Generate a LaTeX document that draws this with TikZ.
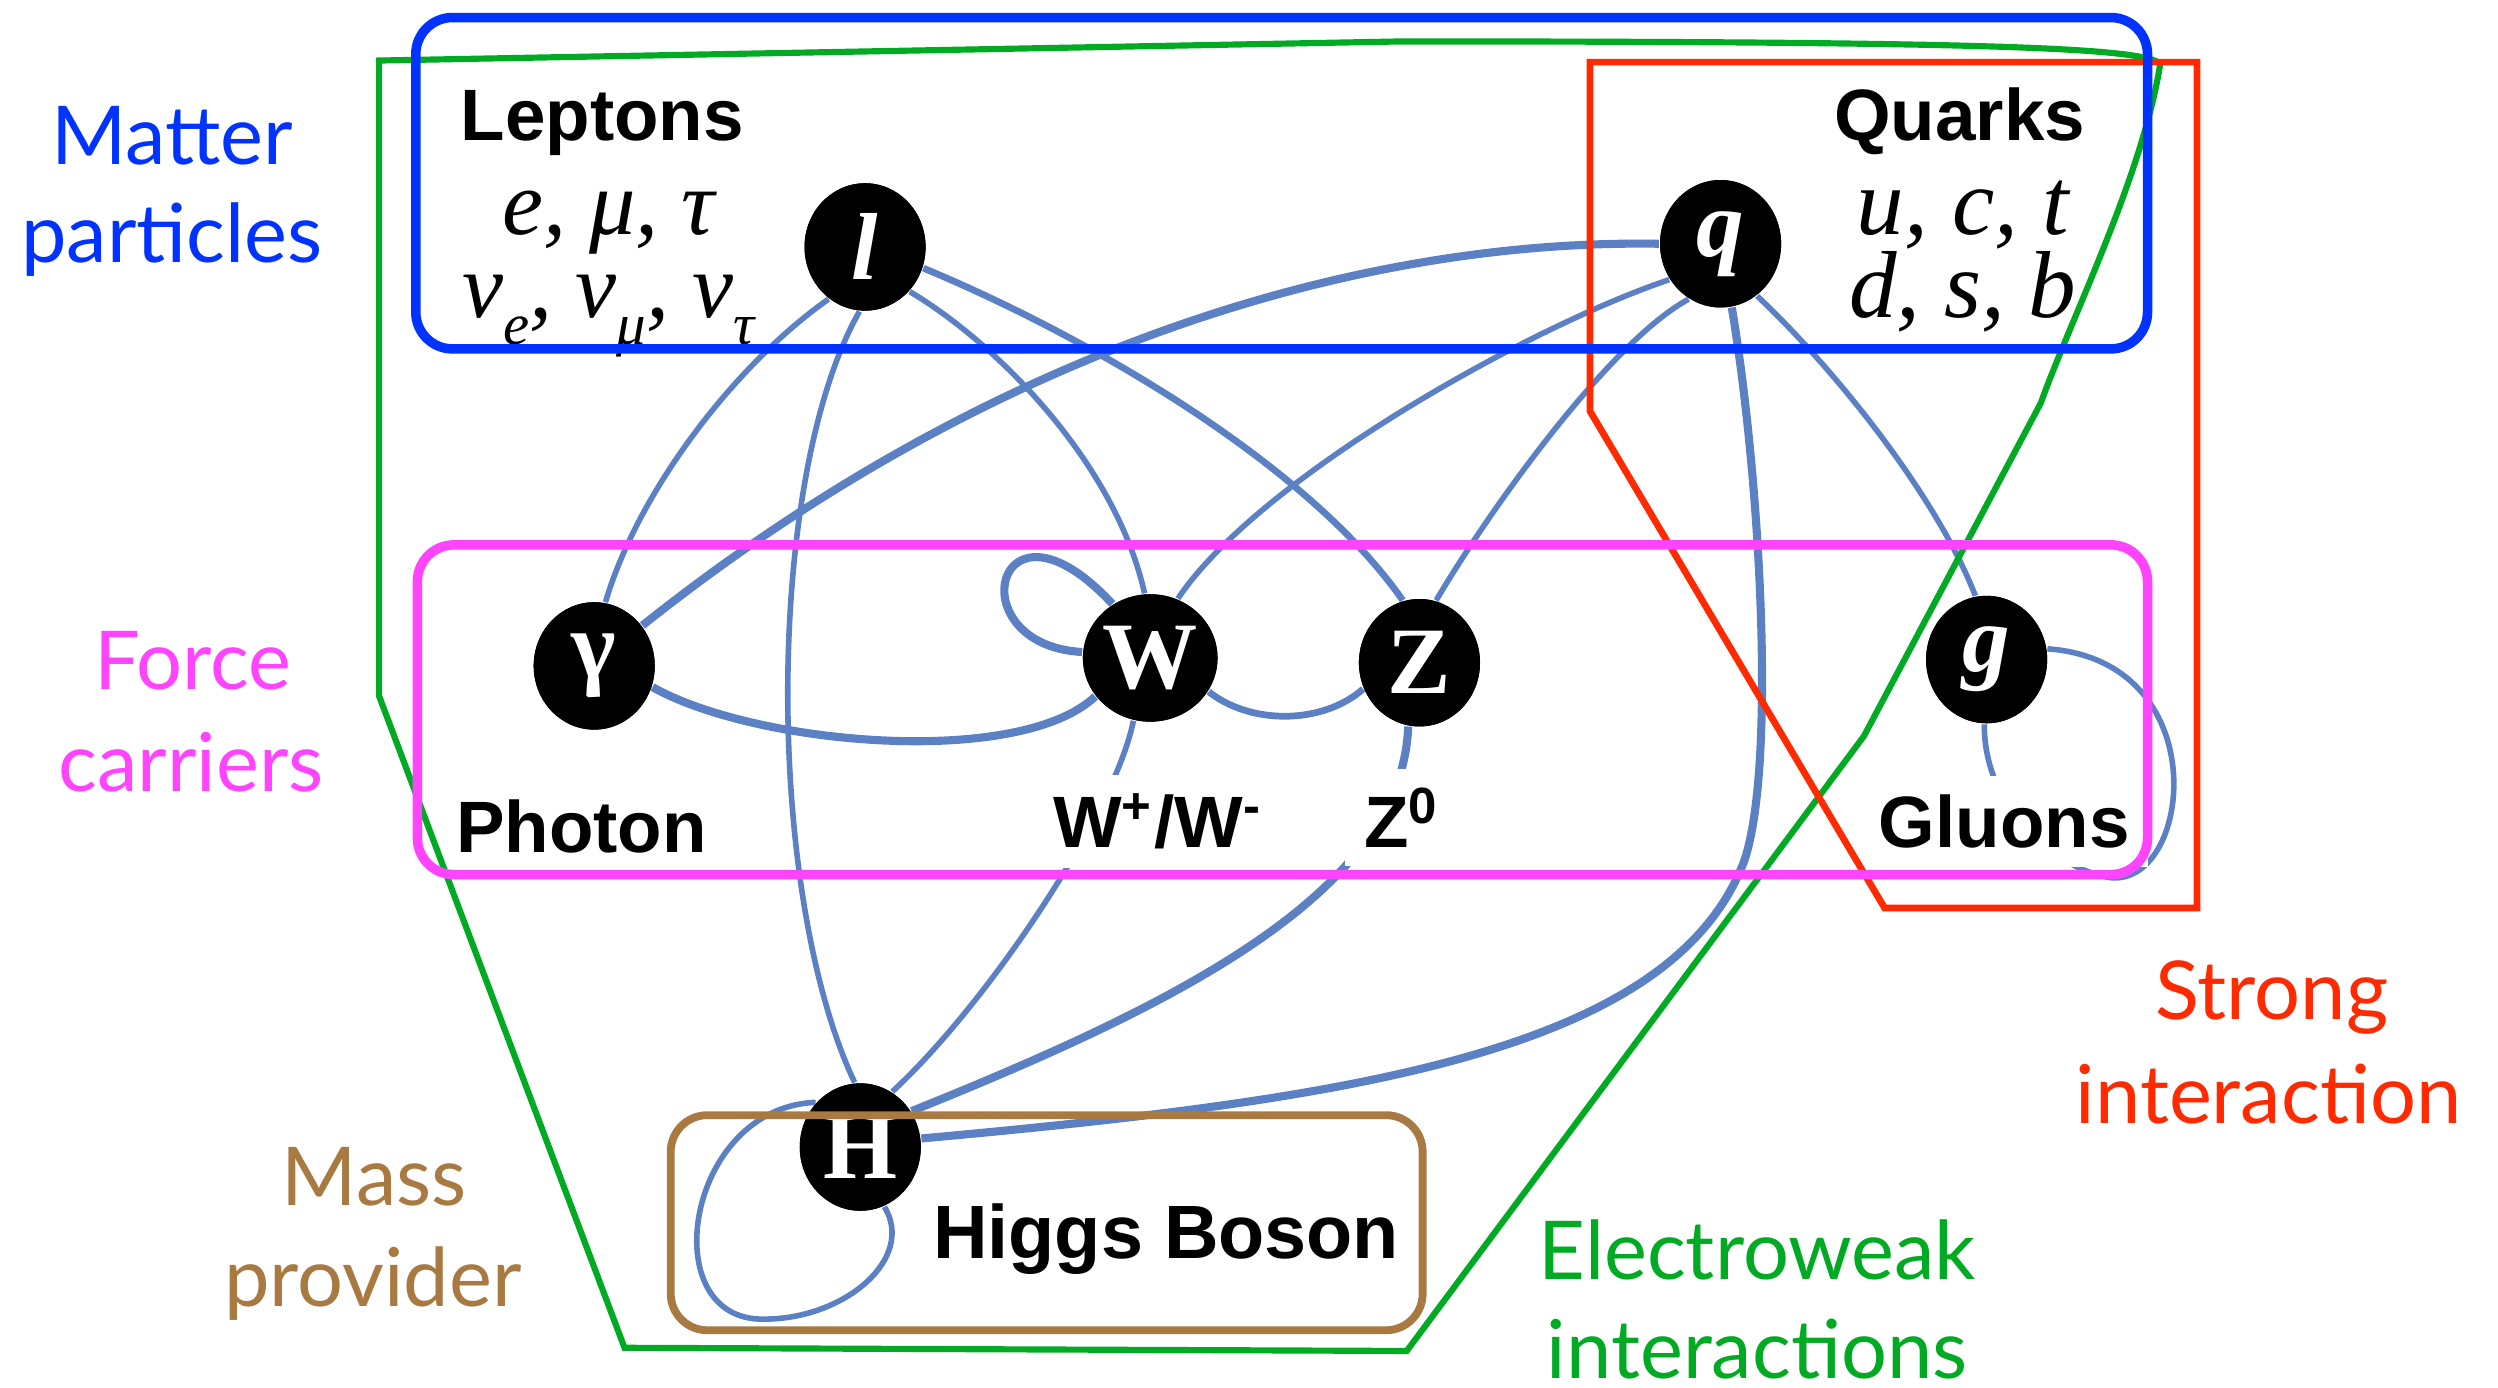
\documentclass[tikz,border=0pt]{standalone}
\usepackage{fontspec}
\usetikzlibrary{shapes.geometric}
\newfontfamily\labfont{Liberation Sans}
\newfontfamily\sidefont{Lato}
\newfontfamily\serfont{Liberation Serif}
\definecolor{edgeblue}{RGB}{92,128,196}
\definecolor{mblue}{RGB}{0,51,255}
\definecolor{mmag}{RGB}{255,68,255}
\definecolor{mbrown}{RGB}{168,122,66}
\definecolor{mred}{RGB}{255,42,0}
\definecolor{mgreen}{RGB}{0,170,34}
\newcommand\nusb[1]{ν\raisebox{-.3em}{\fontsize{10.5}{10.5}\selectfont #1}}
\begin{document}
\begin{tikzpicture}[x=0.1mm,y=-0.1mm,
  pnode/.style={ellipse, fill=black, minimum width=7.6mm, minimum height=8mm, inner sep=0pt,
    text=white, font=\serfont\bfseries\fontsize{17}{17}\selectfont},
  edge/.style={draw=edgeblue, line width=1pt},
  medge/.style={draw=edgeblue, line width=1.2pt},
  thickedge/.style={draw=edgeblue, line width=1.45pt},
  ttl/.style={font=\labfont\bfseries\fontsize{13}{13}\selectfont, anchor=base},
  side/.style={font=\sidefont\fontsize{14.5}{18.5}\selectfont, align=center, inner sep=0pt},
  sym/.style={font=\serfont\itshape\fontsize{16.5}{14.8}\selectfont, align=center, inner sep=0pt},
  rbox/.style={line width=1.7pt, rounded corners=2.3mm},
]
\useasboundingbox (0,0) rectangle (1568,871);

% particle nodes
\node[pnode] (l)  at (543,155) {\itshape l};
\node[pnode] (q)  at (1080,153) {\itshape q};
\node[pnode] (ga) at (373,418) {γ};
\node[pnode] (W)  at (722,413) {W};
\node[pnode] (Z)  at (891,416) {Z};
\node[pnode] (g)  at (1247,414) {\itshape g};
\node[pnode] (H)  at (540,720) {H};

% connectors
\draw[edge] (l.235) .. controls (460,230) and (400,310) .. (ga.80);
\draw[edge] (l.265) .. controls (480,300) and (480,560) .. (H.95);
\draw[edge] (l.315) .. controls (625,215) and (700,290) .. (W.95);
\draw[medge] (l.340) .. controls (680,210) and (820,290) .. (Z.105);
\draw[thickedge] (q.180) .. controls (850,150) and (620,220) .. (ga.40);
\draw[edge] (q.215) .. controls (960,205) and (790,300) .. (W.65);
\draw[edge] (q.240) .. controls (1010,215) and (935,320) .. (Z.75);
\draw[edge] (q.305) .. controls (1150,230) and (1215,310) .. (g.100);
\draw[thickedge] (q.280) .. controls (1105,300) and (1115,480) .. (1095,540)
   .. controls (1050,660) and (850,690) .. (H.8);
\draw[thickedge] (ga.340) .. controls (475,468) and (640,482) .. (W.215);
\draw[thickedge] (W.175) .. controls (600,405) and (625,300) .. (W.125);
\draw[medge] (W.330) .. controls (785,455) and (830,455) .. (Z.205);
\draw[edge] (W.255) .. controls (700,510) and (620,630) .. (H.60);
\draw[thickedge] (Z.260) .. controls (880,560) and (740,630) .. (H.35);
\draw[edge] (g.10) .. controls (1395,415) and (1375,565) .. (1320,550)
   .. controls (1280,540) and (1245,500) .. (g.268);
\draw[edge] (H.135) .. controls (430,695) and (410,830) .. (480,828)
   .. controls (530,828) and (575,790) .. (H.292);

% redraw nodes on top of connector ends
\node[pnode] at (l) {\itshape l};
\node[pnode] at (q) {\itshape q};
\node[pnode] at (ga) {γ};
\node[pnode] at (W) {W};
\node[pnode] at (Z) {Z};
\node[pnode] at (g) {\itshape g};
\node[pnode] at (H) {H};

% black labels
\node[ttl] (lep) at (378,88) {Leptons};
\node[ttl] (qua) at (1230,88) {Quarks};
\node[sym] (lepsym) at (382,172) {e, μ, τ\\\nusb{e}, \nusb{μ}, \nusb{τ}};
\node[sym, font=\serfont\itshape\fontsize{17}{14.8}\selectfont] (quasym) at (1232,161) {u, c, t\\d, s, b};
\node[ttl] (pho) at (365,535) {Photon};
\node[ttl, fill=white] (wlab) at (727,532) {W\textsuperscript{+}/W\textsuperscript{-}};
\node[ttl, fill=white] (zlab) at (880,532) {Z\textsuperscript{0}};
\node[ttl, fill=white] (glu) at (1258,532) {Gluons};
\node[ttl, font=\labfont\bfseries\fontsize{13.5}{13.5}\selectfont] (hig) at (732,790) {Higgs Boson};

% side labels
\node[side, text=mblue, anchor=base] (m1) at (108,103) {Matter};
\node[side, text=mblue, anchor=base] (m2) at (108,165) {particles};
\node[side, text=mmag, anchor=base] (f1) at (121,433) {Force};
\node[side, text=mmag, anchor=base] (f2) at (120,497) {carriers};
\node[side, text=mbrown, anchor=base] (p1) at (235,757) {Mass};
\node[side, text=mbrown, anchor=base] (p2) at (234,820) {provider};
\node[side, text=mred, anchor=base] (s1) at (1426,640) {Strong};
\node[side, text=mred, anchor=base] (s2) at (1424,705) {interaction};
\node[side, text=mgreen, anchor=base] (e1) at (1103,803) {Electroweak};
\node[side, text=mgreen, anchor=base] (e2) at (1103,865) {interactions};

% group outlines
\draw[mgreen, line width=1.1pt, line join=miter]
  (238,437) -- (238,38) -- (880,26) .. controls (1250,26) and (1345,30) .. (1356,40)
  .. controls (1345,110) and (1300,200) .. (1281,253) -- (1170,462) -- (883,848)
  -- (392,846) -- cycle;
\draw[mred, line width=1.2pt]
  (998,39) -- (1379,39) -- (1379,570) -- (1183,570) -- (998,258) -- cycle;
\draw[rbox, mblue] (261,11) rectangle (1348,219);
\draw[rbox, mmag] (262,342) rectangle (1348,549);
\draw[rbox, mbrown, line width=1.4pt] (421,700) rectangle (893,835);
\end{tikzpicture}
\end{document}
